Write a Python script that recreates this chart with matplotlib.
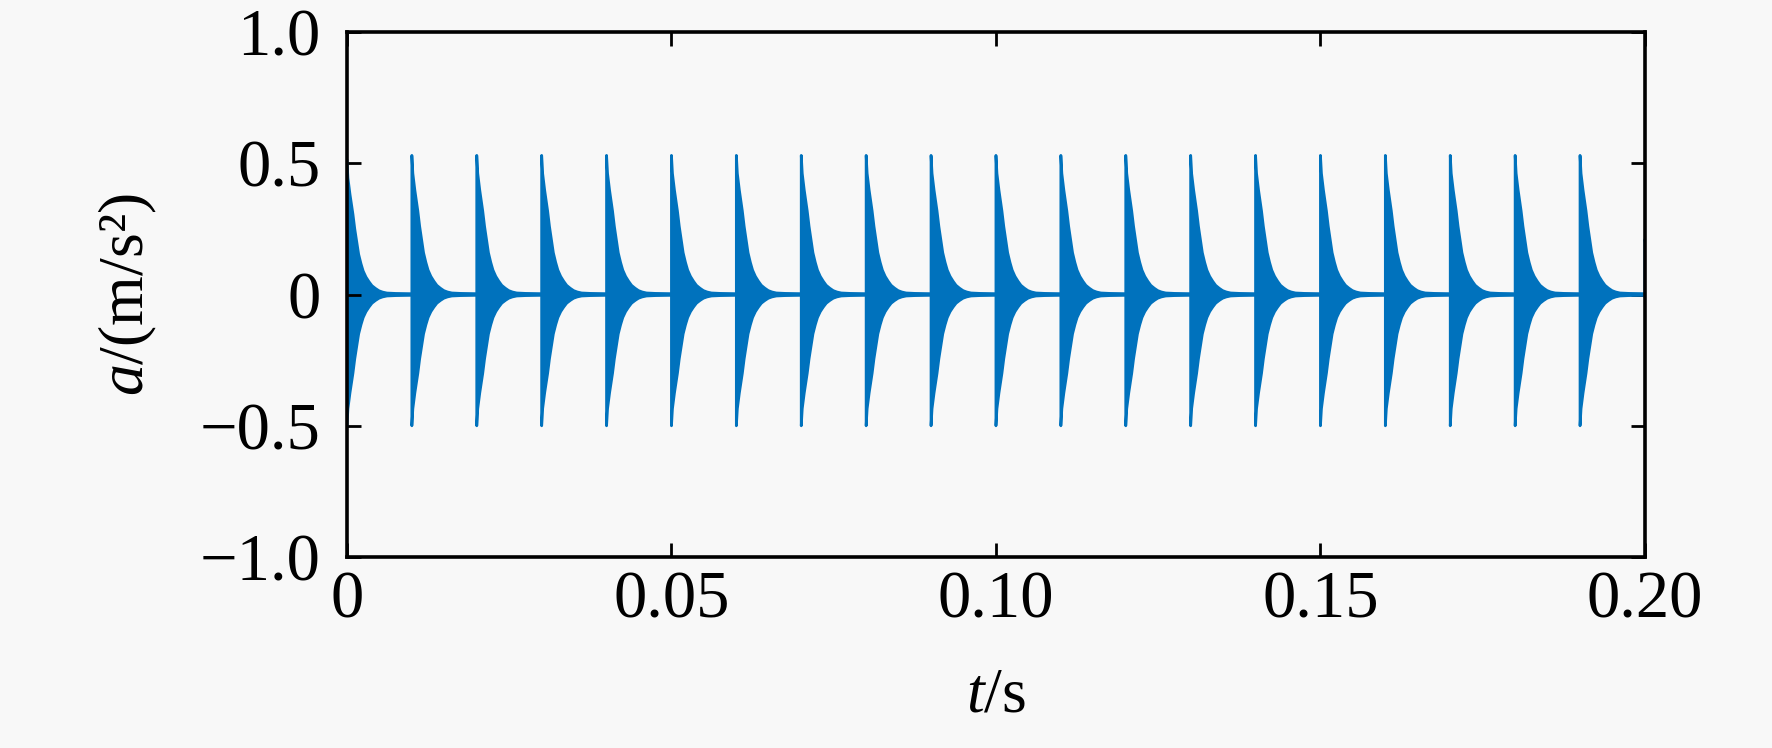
import numpy as np
import matplotlib
matplotlib.use("Agg")
import matplotlib.pyplot as plt

plt.rcParams['font.family'] = ['Liberation Serif', 'DejaVu Serif']
plt.rcParams['mathtext.fontset'] = 'custom'
plt.rcParams['mathtext.rm'] = 'Liberation Serif'
plt.rcParams['mathtext.it'] = 'Liberation Serif:italic'

# impulse start times (s) and peak values
pulse_times = [0.00, 0.01, 0.02, 0.03, 0.04, 0.05, 0.06, 0.07, 0.08, 0.09, 0.10,
               0.11, 0.12, 0.13, 0.14, 0.15, 0.16, 0.17, 0.18, 0.19, 0.20]
peak_up = [0.51, 0.53, 0.53, 0.53, 0.53, 0.53, 0.53, 0.53, 0.53, 0.53, 0.53,
           0.53, 0.53, 0.53, 0.53, 0.53, 0.53, 0.53, 0.53, 0.53, 0.21]
peak_lo = [-0.50, -0.50, -0.50, -0.50, -0.50, -0.50, -0.50, -0.50, -0.50, -0.50, -0.50,
           -0.50, -0.50, -0.50, -0.50, -0.50, -0.50, -0.50, -0.50, -0.50, -0.01]

env_t = [0.0, 0.00008, 0.00015, 0.0003, 0.00046, 0.0007, 0.00092, 0.0012,
         0.00154, 0.0018, 0.00216, 0.0025, 0.00293, 0.0034, 0.00385, 0.0044,
         0.00493, 0.0055, 0.00616, 0.0075, 0.0100]
env_rel = [1.0, 0.93, 0.87, 0.81, 0.75, 0.67, 0.60, 0.49,
           0.38, 0.30, 0.23, 0.175, 0.13, 0.095, 0.066, 0.045,
           0.028, 0.018, 0.011, 0.008, 0.006]

t_all, up_all, lo_all = [], [], []
for t0, pu, pl in zip(pulse_times, peak_up, peak_lo):
    t_all.append(t0 + np.array(env_t))
    up_all.append(pu * np.array(env_rel))
    lo_all.append(pl * np.array(env_rel))
t_all = np.concatenate(t_all)
up_all = np.concatenate(up_all)
lo_all = np.concatenate(lo_all)

blue = '#0072BD'

fig = plt.figure(figsize=(17.72, 7.48), dpi=100)
fig.patch.set_facecolor('#f8f8f8')
ax = fig.add_axes([0.1958, 0.2553, 0.7325, 0.7019])
ax.set_facecolor('#f8f8f8')

ax.fill_between(t_all, lo_all, up_all, color=blue, linewidth=0)
ax.plot(t_all, up_all, color=blue, lw=2.0)
ax.plot(t_all, lo_all, color=blue, lw=2.0)

ax.set_xlim(0, 0.2)
ax.set_ylim(-1.0, 1.0)
ax.set_xticks([0, 0.05, 0.10, 0.15, 0.20])
ax.set_xticklabels(['0', '0.05', '0.10', '0.15', '0.20'])
ax.set_yticks([-1.0, -0.5, 0, 0.5, 1.0])
ax.set_yticklabels(['\u22121.0', '\u22120.5', '0', '0.5', '1.0'])

ax.tick_params(direction='in', top=True, right=True, length=10, width=2,
               labelsize=48, color='black')
ax.tick_params(axis='x', pad=10)
ax.tick_params(axis='y', pad=19)
for s in ax.spines.values():
    s.set_linewidth(2.6)
    s.set_zorder(5)

ax.set_xlabel('$t$/s', fontsize=46)
ax.set_ylabel('$a$/(m/s\u00b2)', fontsize=46)
ax.xaxis.set_label_coords(0.5, -0.21)
ax.yaxis.set_label_coords(-0.145, 0.5)

fig.savefig('out.png', dpi=100, facecolor=fig.get_facecolor())
